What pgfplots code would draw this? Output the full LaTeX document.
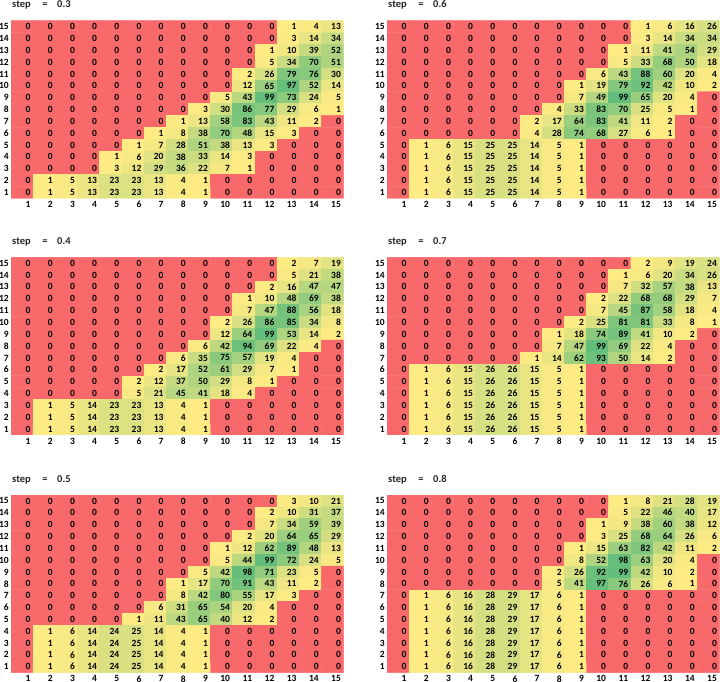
\documentclass[border=0pt]{standalone}
\usepackage{pgfplots}
\pgfplotsset{compat=1.18}
\usepackage{pgfplotstable}
\usepackage{fontspec}
\setmainfont{Carlito}

% step = 0.3 (rows 15 -> 1, columns 1 -> 15)
\pgfplotstableread[row sep=\\]{v\\
0\\0\\0\\0\\0\\0\\0\\0\\0\\0\\0\\0\\1\\4\\13\\
0\\0\\0\\0\\0\\0\\0\\0\\0\\0\\0\\0\\3\\14\\34\\
0\\0\\0\\0\\0\\0\\0\\0\\0\\0\\0\\1\\10\\39\\52\\
0\\0\\0\\0\\0\\0\\0\\0\\0\\0\\0\\5\\34\\70\\51\\
0\\0\\0\\0\\0\\0\\0\\0\\0\\0\\2\\26\\79\\76\\30\\
0\\0\\0\\0\\0\\0\\0\\0\\0\\0\\12\\65\\97\\52\\14\\
0\\0\\0\\0\\0\\0\\0\\0\\0\\5\\43\\99\\73\\24\\5\\
0\\0\\0\\0\\0\\0\\0\\0\\3\\30\\86\\77\\29\\6\\1\\
0\\0\\0\\0\\0\\0\\0\\1\\13\\58\\83\\43\\11\\2\\0\\
0\\0\\0\\0\\0\\0\\1\\8\\38\\70\\48\\15\\3\\0\\0\\
0\\0\\0\\0\\0\\1\\7\\28\\51\\38\\13\\3\\0\\0\\0\\
0\\0\\0\\0\\1\\6\\20\\38\\33\\14\\3\\0\\0\\0\\0\\
0\\0\\0\\0\\3\\12\\29\\36\\22\\7\\1\\0\\0\\0\\0\\
0\\1\\5\\13\\23\\23\\13\\4\\1\\0\\0\\0\\0\\0\\0\\
0\\1\\5\\13\\23\\23\\13\\4\\1\\0\\0\\0\\0\\0\\0\\
}\tabA

% step = 0.4
\pgfplotstableread[row sep=\\]{v\\
0\\0\\0\\0\\0\\0\\0\\0\\0\\0\\0\\0\\2\\7\\19\\
0\\0\\0\\0\\0\\0\\0\\0\\0\\0\\0\\0\\5\\21\\38\\
0\\0\\0\\0\\0\\0\\0\\0\\0\\0\\0\\2\\16\\47\\47\\
0\\0\\0\\0\\0\\0\\0\\0\\0\\0\\1\\10\\48\\69\\38\\
0\\0\\0\\0\\0\\0\\0\\0\\0\\0\\7\\47\\88\\56\\18\\
0\\0\\0\\0\\0\\0\\0\\0\\0\\2\\26\\86\\85\\34\\8\\
0\\0\\0\\0\\0\\0\\0\\0\\0\\12\\64\\99\\53\\14\\2\\
0\\0\\0\\0\\0\\0\\0\\0\\6\\42\\94\\69\\22\\4\\0\\
0\\0\\0\\0\\0\\0\\0\\6\\35\\75\\57\\19\\4\\0\\0\\
0\\0\\0\\0\\0\\0\\2\\17\\52\\61\\29\\7\\1\\0\\0\\
0\\0\\0\\0\\0\\2\\12\\37\\50\\29\\8\\1\\0\\0\\0\\
0\\0\\0\\0\\0\\5\\21\\45\\41\\18\\4\\0\\0\\0\\0\\
0\\1\\5\\14\\23\\23\\13\\4\\1\\0\\0\\0\\0\\0\\0\\
0\\1\\5\\14\\23\\23\\13\\4\\1\\0\\0\\0\\0\\0\\0\\
0\\1\\5\\14\\23\\23\\13\\4\\1\\0\\0\\0\\0\\0\\0\\
}\tabB

% step = 0.5
\pgfplotstableread[row sep=\\]{v\\
0\\0\\0\\0\\0\\0\\0\\0\\0\\0\\0\\0\\3\\10\\21\\
0\\0\\0\\0\\0\\0\\0\\0\\0\\0\\0\\2\\10\\31\\37\\
0\\0\\0\\0\\0\\0\\0\\0\\0\\0\\0\\7\\34\\59\\39\\
0\\0\\0\\0\\0\\0\\0\\0\\0\\0\\2\\20\\64\\65\\29\\
0\\0\\0\\0\\0\\0\\0\\0\\0\\1\\12\\62\\89\\48\\13\\
0\\0\\0\\0\\0\\0\\0\\0\\0\\5\\44\\99\\72\\24\\5\\
0\\0\\0\\0\\0\\0\\0\\0\\5\\42\\98\\71\\23\\5\\0\\
0\\0\\0\\0\\0\\0\\0\\1\\17\\70\\91\\43\\11\\2\\0\\
0\\0\\0\\0\\0\\0\\0\\8\\42\\80\\55\\17\\3\\0\\0\\
0\\0\\0\\0\\0\\0\\6\\31\\65\\54\\20\\4\\0\\0\\0\\
0\\0\\0\\0\\0\\1\\11\\43\\65\\40\\12\\2\\0\\0\\0\\
0\\1\\6\\14\\24\\25\\14\\4\\1\\0\\0\\0\\0\\0\\0\\
0\\1\\6\\14\\24\\25\\14\\4\\1\\0\\0\\0\\0\\0\\0\\
0\\1\\6\\14\\24\\25\\14\\4\\1\\0\\0\\0\\0\\0\\0\\
0\\1\\6\\14\\24\\25\\14\\4\\1\\0\\0\\0\\0\\0\\0\\
}\tabC

% step = 0.6
\pgfplotstableread[row sep=\\]{v\\
0\\0\\0\\0\\0\\0\\0\\0\\0\\0\\0\\1\\6\\16\\26\\
0\\0\\0\\0\\0\\0\\0\\0\\0\\0\\0\\3\\14\\34\\34\\
0\\0\\0\\0\\0\\0\\0\\0\\0\\0\\1\\11\\41\\54\\29\\
0\\0\\0\\0\\0\\0\\0\\0\\0\\0\\5\\33\\68\\50\\18\\
0\\0\\0\\0\\0\\0\\0\\0\\0\\6\\43\\88\\60\\20\\4\\
0\\0\\0\\0\\0\\0\\0\\0\\1\\19\\79\\92\\42\\10\\2\\
0\\0\\0\\0\\0\\0\\0\\0\\7\\49\\99\\65\\20\\4\\0\\
0\\0\\0\\0\\0\\0\\0\\4\\33\\83\\70\\25\\5\\1\\0\\
0\\0\\0\\0\\0\\0\\2\\17\\64\\83\\41\\11\\2\\0\\0\\
0\\0\\0\\0\\0\\0\\4\\28\\74\\68\\27\\6\\1\\0\\0\\
0\\1\\6\\15\\25\\25\\14\\5\\1\\0\\0\\0\\0\\0\\0\\
0\\1\\6\\15\\25\\25\\14\\5\\1\\0\\0\\0\\0\\0\\0\\
0\\1\\6\\15\\25\\25\\14\\5\\1\\0\\0\\0\\0\\0\\0\\
0\\1\\6\\15\\25\\25\\14\\5\\1\\0\\0\\0\\0\\0\\0\\
0\\1\\6\\15\\25\\25\\14\\5\\1\\0\\0\\0\\0\\0\\0\\
}\tabD

% step = 0.7
\pgfplotstableread[row sep=\\]{v\\
0\\0\\0\\0\\0\\0\\0\\0\\0\\0\\0\\2\\9\\19\\24\\
0\\0\\0\\0\\0\\0\\0\\0\\0\\0\\1\\6\\20\\34\\26\\
0\\0\\0\\0\\0\\0\\0\\0\\0\\0\\7\\32\\57\\38\\13\\
0\\0\\0\\0\\0\\0\\0\\0\\0\\2\\22\\68\\68\\29\\7\\
0\\0\\0\\0\\0\\0\\0\\0\\0\\7\\45\\87\\58\\18\\4\\
0\\0\\0\\0\\0\\0\\0\\0\\2\\25\\81\\81\\33\\8\\1\\
0\\0\\0\\0\\0\\0\\0\\1\\18\\74\\89\\41\\10\\2\\0\\
0\\0\\0\\0\\0\\0\\0\\7\\47\\99\\69\\22\\4\\0\\0\\
0\\0\\0\\0\\0\\0\\1\\14\\62\\93\\50\\14\\2\\0\\0\\
0\\1\\6\\15\\26\\26\\15\\5\\1\\0\\0\\0\\0\\0\\0\\
0\\1\\6\\15\\26\\26\\15\\5\\1\\0\\0\\0\\0\\0\\0\\
0\\1\\6\\15\\26\\26\\15\\5\\1\\0\\0\\0\\0\\0\\0\\
0\\1\\6\\15\\26\\26\\15\\5\\1\\0\\0\\0\\0\\0\\0\\
0\\1\\6\\15\\26\\26\\15\\5\\1\\0\\0\\0\\0\\0\\0\\
0\\1\\6\\15\\26\\26\\15\\5\\1\\0\\0\\0\\0\\0\\0\\
}\tabE

% step = 0.8
\pgfplotstableread[row sep=\\]{v\\
0\\0\\0\\0\\0\\0\\0\\0\\0\\0\\1\\8\\21\\28\\19\\
0\\0\\0\\0\\0\\0\\0\\0\\0\\0\\5\\22\\46\\40\\17\\
0\\0\\0\\0\\0\\0\\0\\0\\0\\1\\9\\38\\60\\38\\12\\
0\\0\\0\\0\\0\\0\\0\\0\\0\\3\\25\\68\\64\\26\\6\\
0\\0\\0\\0\\0\\0\\0\\0\\1\\15\\63\\82\\42\\11\\2\\
0\\0\\0\\0\\0\\0\\0\\0\\8\\52\\98\\63\\20\\4\\0\\
0\\0\\0\\0\\0\\0\\0\\2\\26\\92\\99\\42\\10\\2\\0\\
0\\0\\0\\0\\0\\0\\0\\5\\41\\97\\76\\26\\6\\1\\0\\
0\\1\\6\\16\\28\\29\\17\\6\\1\\0\\0\\0\\0\\0\\0\\
0\\1\\6\\16\\28\\29\\17\\6\\1\\0\\0\\0\\0\\0\\0\\
0\\1\\6\\16\\28\\29\\17\\6\\1\\0\\0\\0\\0\\0\\0\\
0\\1\\6\\16\\28\\29\\17\\6\\1\\0\\0\\0\\0\\0\\0\\
0\\1\\6\\16\\28\\29\\17\\6\\1\\0\\0\\0\\0\\0\\0\\
0\\1\\6\\16\\28\\29\\17\\6\\1\\0\\0\\0\\0\\0\\0\\
0\\1\\6\\16\\28\\29\\17\\6\\1\\0\\0\\0\\0\\0\\0\\
}\tabF

\pgfplotsset{
  /pgf/number format/assume math mode=true,
  colormap={xl}{rgb255(0pt)=(248,105,107); rgb255(1pt)=(255,235,132); rgb255(99pt)=(99,190,123)},
  hm/.style={
    scale only axis, width=332.5pt, height=177.6pt,
    xmin=0.5, xmax=15.5, ymin=0.5, ymax=15.5,
    xtick={1,...,15}, ytick={1,...,15},
    axis line style={draw=none}, major tick length=0pt,
    colormap name=xl, point meta min=0, point meta max=99,
    tick label style={font=\fontsize{9.5}{10}\selectfont\bfseries, inner sep=0pt, text=black},
    xticklabel style={anchor=north east, xshift=8.6pt, yshift=-2.8pt},
    yticklabel style={anchor=east, xshift=-2pt},
    anchor=north west,
  },
}

% cell position from the row-major index of each value (row 15 first)
\newcommand\heat[3]{%
  \begin{axis}[hm, at={(#1,#2)}]
    \addplot[matrix plot*, mesh/cols=15, point meta=explicit]
      table[x index=0, y index=0, meta index=0,
        x expr={\coordindex-15*floor(\coordindex/15+0.01)+1},
        y expr={15-floor(\coordindex/15+0.01)}]{#3};
    \addplot[only marks, mark=*, mark size=0pt, mark options={draw=none, fill=none},
      point meta=explicit, nodes near coords,
      every node near coord/.append style={anchor=east, xshift=8.6pt, inner sep=0pt,
        font=\fontsize{9.5}{10}\selectfont\bfseries, text=black}]
      table[x index=0, y index=0, meta index=0,
        x expr={\coordindex-15*floor(\coordindex/15+0.01)+1},
        y expr={15-floor(\coordindex/15+0.01)}]{#3};
  \end{axis}%
}

\newcommand\steptitle[3]{%
  \node[anchor=base west, inner sep=0pt, font=\fontsize{10.5}{12}\selectfont\bfseries, text=black!85] at (#1,#2) {step};
  \node[anchor=base, inner sep=0pt, font=\fontsize{10.5}{12}\selectfont\bfseries, text=black!85] at ([xshift=33pt]#1,#2) {=};
  \node[anchor=base west, inner sep=0pt, font=\fontsize{10.5}{12}\selectfont\bfseries, text=black!85] at ([xshift=45pt]#1,#2) {#3};
}

\begin{document}
\begin{tikzpicture}
\useasboundingbox (0,0) rectangle (720pt,-682pt);
\heat{11pt}{-20.7pt}{\tabA}
\heat{387pt}{-20.7pt}{\tabD}
\heat{11pt}{-257.3pt}{\tabB}
\heat{387pt}{-257.3pt}{\tabE}
\heat{11pt}{-495pt}{\tabC}
\heat{387pt}{-495pt}{\tabF}
\steptitle{12pt}{-7.8pt}{0.3}
\steptitle{388pt}{-7.8pt}{0.6}
\steptitle{12pt}{-244.8pt}{0.4}
\steptitle{388pt}{-244.8pt}{0.7}
\steptitle{12pt}{-482pt}{0.5}
\steptitle{388pt}{-482pt}{0.8}
\end{tikzpicture}
\end{document}
